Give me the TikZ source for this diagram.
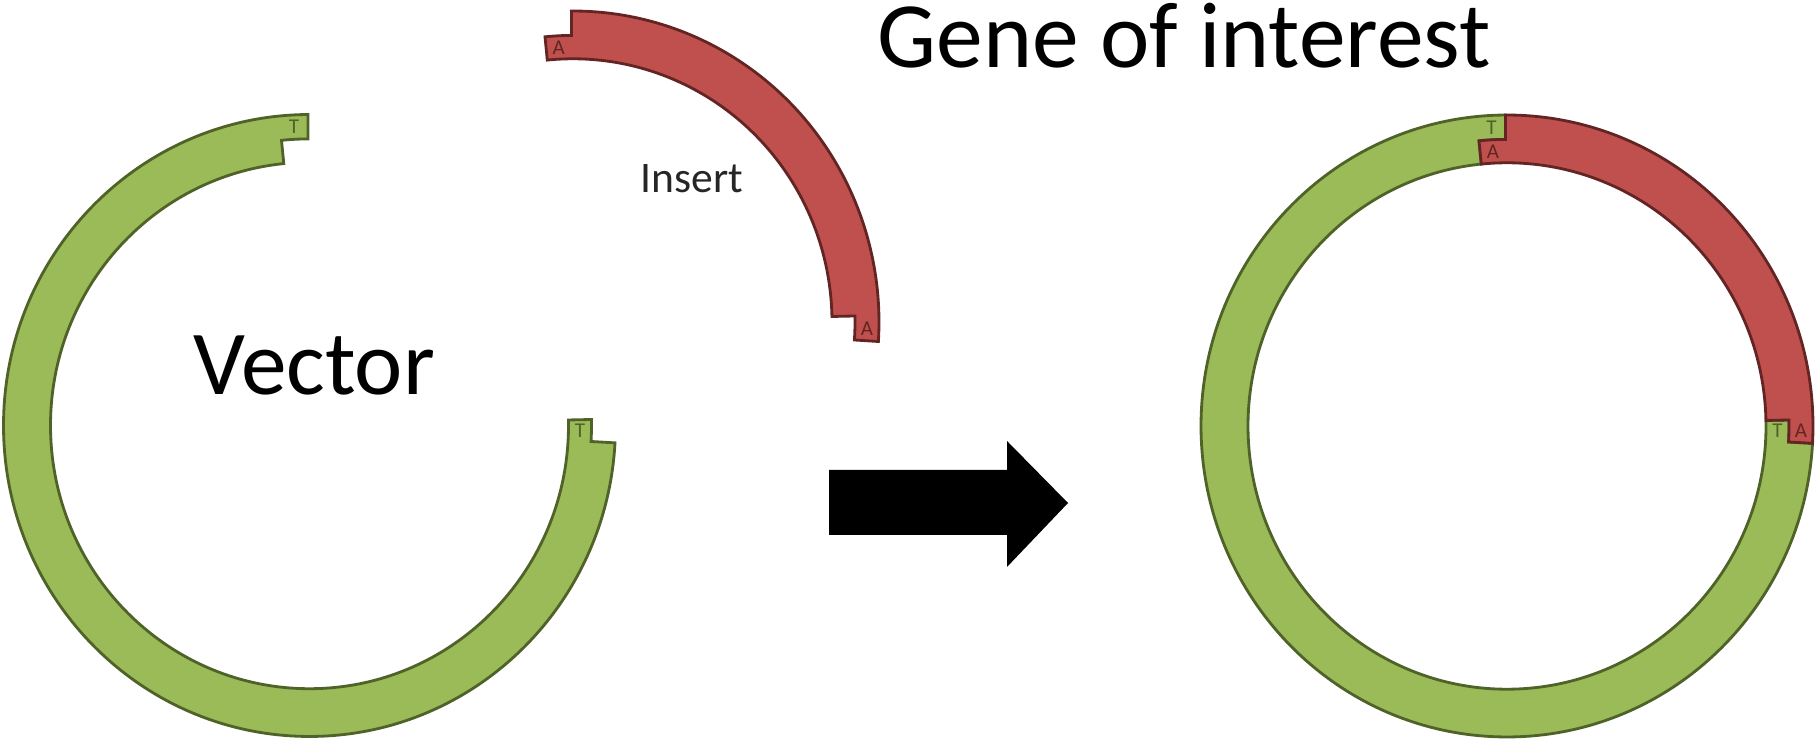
\documentclass[tikz,border=0pt]{standalone}
\usepackage{fontspec}
\setmainfont{Carlito}
\definecolor{vecfill}{HTML}{9BBB59}
\definecolor{vecline}{HTML}{4F6228}
\definecolor{insfill}{HTML}{C0504D}
\definecolor{insline}{HTML}{632523}
\definecolor{inslabel}{HTML}{262626}
\def\Ro{306}
\def\Rm{282}
\def\Ri{259}
\begin{document}
\begin{tikzpicture}[x=0.01cm,y=0.01cm,
  vecring/.style={fill=vecfill,draw=vecline,line width=0.8pt,line join=miter},
  insring/.style={fill=insfill,draw=insline,line width=0.8pt,line join=miter},
  vtag/.style={inner sep=0pt,text=vecline,font=\fontsize{6}{6}\selectfont},
  itag/.style={inner sep=0pt,text=insline,font=\fontsize{6}{6}\selectfont},
  bigtext/.style={inner sep=0pt,anchor=base west,text=black},
  blockarrow/.style={fill=black}]
\useasboundingbox (0,0) rectangle (1818,743);

% ---------- left: vector ----------
\begin{scope}[shift={(309.5,317.5)},yscale=1.0163]
\draw[vecring] (90.3:\Ro) arc[start angle=90.3,end angle=356.8,radius=\Ro]
  -- (356.8:\Rm) arc[start angle=356.8,end angle=361.2,radius=\Rm]
  -- (361.2:\Ri) arc[start angle=361.2,end angle=95.7,radius=\Ri]
  -- (95.7:\Rm) arc[start angle=95.7,end angle=90.3,radius=\Rm] -- cycle;
\node[vtag] (lvt1) at (93:294) {T};
\node[vtag] (lvt2) at (359:270.5) {T};
\end{scope}

% ---------- left: insert ----------
\begin{scope}[shift={(573,421)},yscale=1.0163]
\draw[insring] (90.3:\Ro) arc[start angle=90.3,end angle=-3.6,radius=\Ro]
  -- (-3.6:\Rm) arc[start angle=-3.6,end angle=1.2,radius=\Rm]
  -- (1.2:\Ri) arc[start angle=1.2,end angle=95.7,radius=\Ri]
  -- (95.7:\Rm) arc[start angle=95.7,end angle=90.3,radius=\Rm] -- cycle;
\node[itag] (lia1) at (93:270.5) {A};
\node[itag] (lia2) at (-1.2:294) {A};
\end{scope}

% ---------- right: recombinant ----------
\begin{scope}[shift={(1507,317)},yscale=1.0163]
\draw[vecring] (90.3:\Ro) arc[start angle=90.3,end angle=356.8,radius=\Ro]
  -- (356.8:\Rm) arc[start angle=356.8,end angle=361.2,radius=\Rm]
  -- (361.2:\Ri) arc[start angle=361.2,end angle=95.7,radius=\Ri]
  -- (95.7:\Rm) arc[start angle=95.7,end angle=90.3,radius=\Rm] -- cycle;
\draw[insring] (90.3:\Ro) arc[start angle=90.3,end angle=-3.2,radius=\Ro]
  -- (-3.2:\Rm) arc[start angle=-3.2,end angle=1.2,radius=\Rm]
  -- (1.2:\Ri) arc[start angle=1.2,end angle=95.7,radius=\Ri]
  -- (95.7:\Rm) arc[start angle=95.7,end angle=90.3,radius=\Rm] -- cycle;
\node[vtag] (rvt1) at (93:294) {T};
\node[vtag] (rvt2) at (359:270.5) {T};
\node[itag] (ria1) at (93:270.5) {A};
\node[itag] (ria2) at (-1:294) {A};
\end{scope}

% ---------- arrow ----------
\fill[blockarrow] (829,273) -- (1007,273) -- (1007,302) -- (1068,240)
  -- (1007,176) -- (1007,208) -- (829,208) -- cycle;

% ---------- texts ----------
\node[bigtext,font=\fontsize{26.6}{26.6}\selectfont] (gene) at (877,675) {Gene of interest};
\node[bigtext,font=\fontsize{26}{26}\selectfont] (vector) at (193,348) {Vector};
\node[bigtext,text=inslabel,font=\fontsize{12.4}{12.4}\selectfont] (insert) at (640,550) {Insert};
\end{tikzpicture}
\end{document}
